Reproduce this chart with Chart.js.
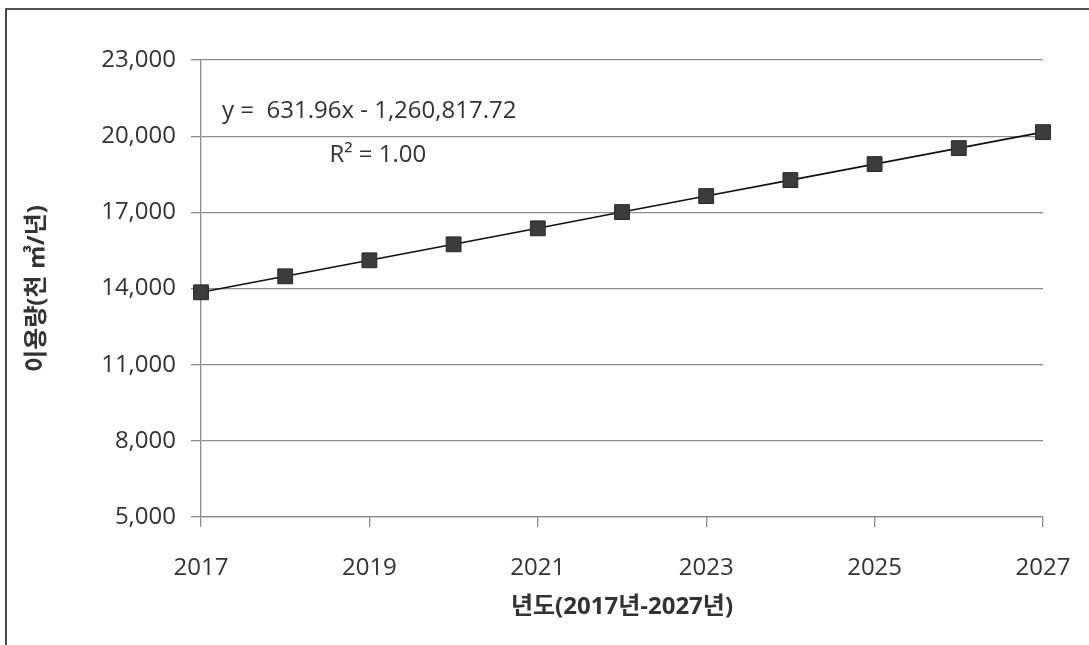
<!DOCTYPE html>
<html lang="ko">
<head>
<meta charset="utf-8">
<title>연도별 이용량 추이</title>
<script src="https://cdn.jsdelivr.net/npm/chart.js@4.4.1/dist/chart.umd.min.js"></script>
<style>
  html, body { margin: 0; padding: 0; background: #fff; }
  #wrap { position: relative; width: 1089px; height: 645px; }
  canvas { display: block; }
</style>
</head>
<body>
<div id="wrap"><canvas id="chart" width="1089" height="645"></canvas></div>
<script>
// 연도별 이용량 (천 ㎥/년)
const years = [2017, 2018, 2019, 2020, 2021, 2022, 2023, 2024, 2025, 2026, 2027];
const usage = [13850, 14480, 15110, 15740, 16370, 17010, 17640, 18270, 18900, 19530, 20160];

// 축 설정
const yTicks = [5000, 8000, 11000, 14000, 17000, 20000, 23000];
const xTickYears = [2017, 2019, 2021, 2023, 2025, 2027];
const yAxisTitle = '이용량(천 ㎥/년)';
const xAxisTitle = '년도(2017년-2027년)';

// 추세선 식
const trendEquation = 'y =  631.96x - 1,260,817.72';
const trendR2 = 'R² = 1.00';

const FONT = '"Open Sans", "Noto Sans CJK KR", sans-serif';
const TEXT = '#333333';
const GRID = '#8c8c8c';

// 바깥 테두리
const frame = {
  id: 'frame',
  beforeDraw(chart) {
    const ctx = chart.ctx;
    ctx.save();
    ctx.fillStyle = '#fff';
    ctx.fillRect(0, 0, chart.width, chart.height);
    ctx.strokeStyle = '#1e1e1e';
    ctx.lineWidth = 1.6;
    ctx.beginPath();
    ctx.moveTo(6, chart.height);
    ctx.lineTo(6, 9);
    ctx.lineTo(chart.width, 9);
    ctx.stroke();
    ctx.restore();
  }
};

// 추세선 식 표시
const trendLabel = {
  id: 'trendLabel',
  afterDatasetsDraw(chart) {
    const { ctx, scales: { x, y } } = chart;
    ctx.save();
    ctx.fillStyle = TEXT;
    ctx.font = '24px ' + FONT;
    ctx.textBaseline = 'middle';
    ctx.textAlign = 'left';
    ctx.fillText(trendEquation, x.getPixelForValue(2017.25), y.getPixelForValue(21000));
    ctx.textAlign = 'center';
    ctx.fillText(trendR2, x.getPixelForValue(2019.1), y.getPixelForValue(19270));
    ctx.restore();
  }
};

new Chart(document.getElementById('chart'), {
  type: 'line',
  data: {
    datasets: [{
      data: years.map((yr, i) => ({ x: yr, y: usage[i] })),
      clip: false,
      borderColor: '#111',
      borderWidth: 1.6,
      pointStyle: 'rect',
      pointRadius: 10.5,
      pointHoverRadius: 10.5,
      pointBackgroundColor: '#3c3c3c',
      pointBorderColor: '#2a2a2a',
      pointBorderWidth: 1,
      tension: 0,
      fill: false
    }]
  },
  options: {
    responsive: false,
    animation: false,
    events: [],
    layout: { padding: { left: 0, right: 46, top: 60, bottom: 0 } },
    plugins: { legend: { display: false }, tooltip: { enabled: false } },
    scales: {
      x: {
        type: 'linear',
        min: 2017,
        max: 2027,
        afterBuildTicks(scale) { scale.ticks = xTickYears.map(v => ({ value: v })); },
        afterFit(scale) {
          scale.height = 128;
          scale.paddingLeft = 0;
          scale.paddingRight = 0;
        },
        ticks: {
          padding: 27,
          color: TEXT,
          font: { family: FONT, size: 24 },
          maxRotation: 0,
          callback: v => String(v)
        },
        grid: { drawOnChartArea: false, tickLength: 10, color: GRID, lineWidth: 1.3 },
        border: { color: GRID, width: 1.3 },
        title: {
          display: true,
          text: xAxisTitle,
          color: TEXT,
          font: { family: FONT, size: 24, weight: 'bold' },
          padding: { top: 0, bottom: 23 }
        }
      },
      y: {
        min: 5000,
        max: 23000,
        afterBuildTicks(scale) { scale.ticks = yTicks.map(v => ({ value: v })); },
        afterFit(scale) { scale.width = 201; },
        ticks: {
          padding: 15,
          color: TEXT,
          font: { family: FONT, size: 24 },
          callback: v => v.toLocaleString('en-US')
        },
        grid: { tickLength: 10, color: GRID, lineWidth: 1.3 },
        border: { color: GRID, width: 1.3 },
        title: {
          display: true,
          text: yAxisTitle,
          color: TEXT,
          font: { family: FONT, size: 24, weight: 'bold' },
          padding: { top: 23, bottom: 0 }
        }
      }
    }
  },
  plugins: [frame, trendLabel]
});
</script>
</body>
</html>
